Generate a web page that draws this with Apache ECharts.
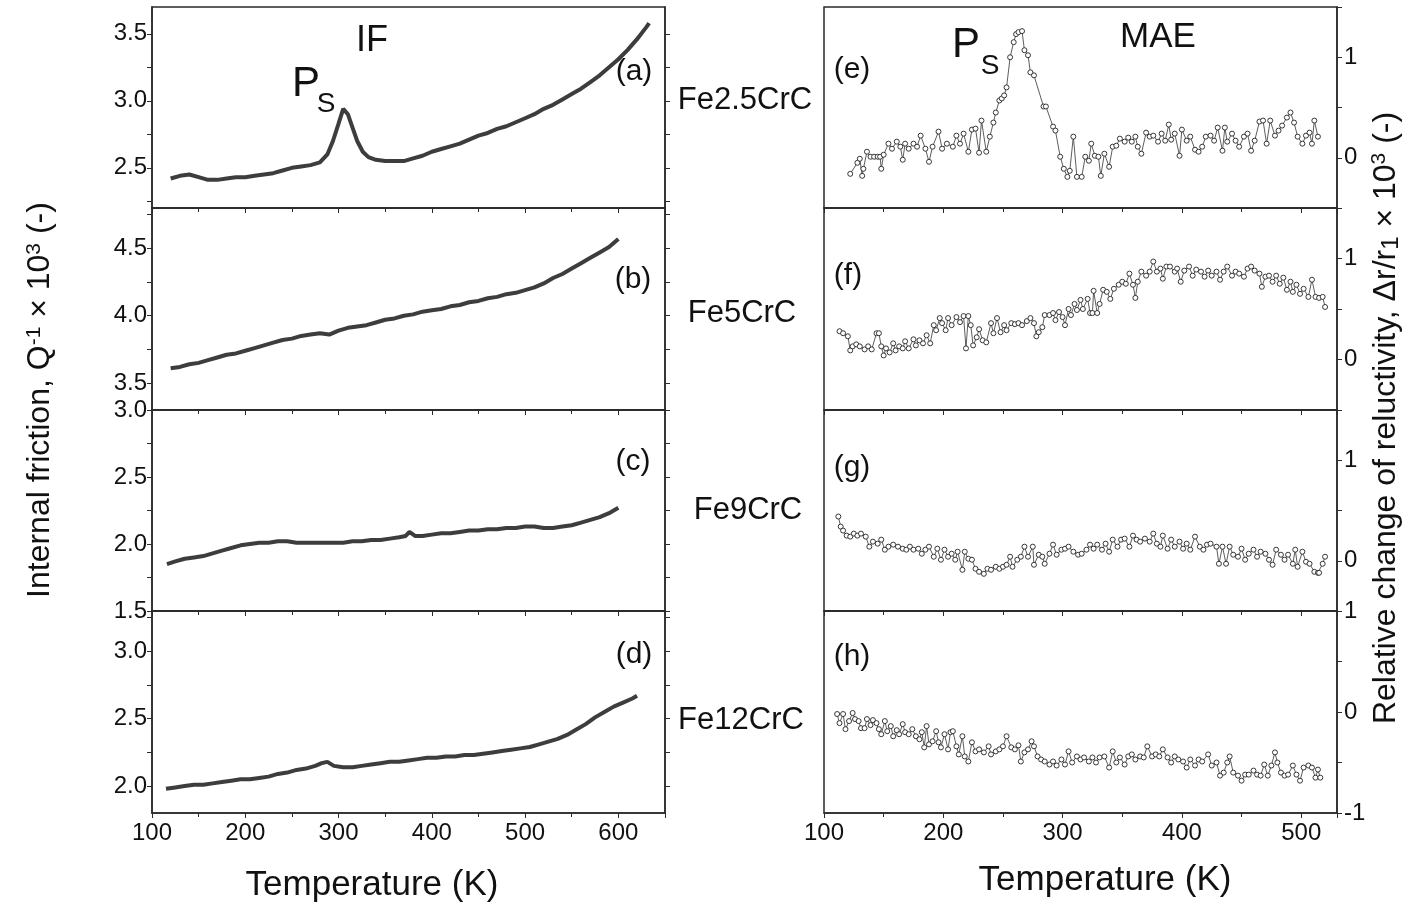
<!DOCTYPE html>
<html>
<head>
<meta charset="utf-8">
<script src="https://cdn.jsdelivr.net/npm/echarts@6/dist/echarts.min.js"></script>
<style>
  html, body { margin: 0; padding: 0; background: #fff; }
  #main { width: 1412px; height: 910px; }
</style>
</head>
<body>
<div id="main"></div>
<script>
// internal friction, Q^-1 x 10^3, [T (K), value]
const ifA = [[120,2.42],[130,2.44],[140,2.45],[150,2.43],[160,2.41],[170,2.41],[180,2.42],[190,2.43],[200,2.43],[210,2.44],[220,2.45],[230,2.46],[240,2.48],[250,2.50],[260,2.51],[270,2.52],[280,2.54],[288,2.60],[294,2.70],[300,2.83],[305,2.94],[310,2.90],[315,2.80],[320,2.70],[326,2.62],[332,2.58],[340,2.56],[350,2.55],[360,2.55],[370,2.55],[380,2.57],[390,2.59],[400,2.62],[410,2.64],[420,2.66],[430,2.68],[440,2.71],[450,2.74],[460,2.76],[470,2.79],[480,2.81],[490,2.84],[500,2.87],[510,2.90],[520,2.94],[530,2.97],[540,3.01],[550,3.05],[560,3.09],[570,3.14],[580,3.19],[590,3.25],[600,3.31],[610,3.38],[620,3.46],[630,3.55],[633,3.58]];
const ifB = [[120,3.61],[130,3.62],[140,3.64],[150,3.65],[160,3.67],[170,3.69],[180,3.71],[190,3.72],[200,3.74],[210,3.76],[220,3.78],[230,3.80],[240,3.82],[250,3.83],[260,3.85],[270,3.86],[280,3.87],[290,3.86],[300,3.89],[310,3.91],[320,3.92],[330,3.93],[340,3.95],[350,3.97],[360,3.98],[370,4.00],[380,4.01],[390,4.03],[400,4.04],[410,4.05],[420,4.07],[430,4.08],[440,4.10],[450,4.11],[460,4.13],[470,4.14],[480,4.16],[490,4.17],[500,4.19],[510,4.21],[520,4.24],[530,4.28],[540,4.31],[550,4.35],[560,4.39],[570,4.43],[580,4.47],[590,4.51],[600,4.57]];
const ifC = [[116,1.85],[125,1.87],[135,1.89],[145,1.90],[155,1.91],[165,1.93],[175,1.95],[185,1.97],[195,1.99],[205,2.00],[215,2.01],[225,2.01],[235,2.02],[245,2.02],[255,2.01],[265,2.01],[275,2.01],[285,2.01],[295,2.01],[305,2.01],[315,2.02],[325,2.02],[335,2.03],[345,2.03],[355,2.04],[365,2.05],[372,2.06],[376,2.09],[382,2.06],[390,2.06],[400,2.07],[410,2.08],[420,2.08],[430,2.09],[440,2.10],[450,2.10],[460,2.11],[470,2.11],[480,2.12],[490,2.12],[500,2.13],[510,2.13],[520,2.12],[530,2.12],[540,2.13],[550,2.14],[560,2.16],[570,2.18],[580,2.20],[590,2.23],[600,2.27]];
const ifD = [[115,1.98],[125,1.99],[135,2.00],[145,2.01],[155,2.01],[165,2.02],[175,2.03],[185,2.04],[195,2.05],[205,2.05],[215,2.06],[225,2.07],[235,2.09],[245,2.10],[255,2.12],[265,2.13],[275,2.15],[282,2.17],[288,2.18],[295,2.15],[305,2.14],[315,2.14],[325,2.15],[335,2.16],[345,2.17],[355,2.18],[365,2.18],[375,2.19],[385,2.20],[395,2.21],[405,2.21],[415,2.22],[425,2.22],[435,2.23],[445,2.23],[455,2.24],[465,2.25],[475,2.26],[485,2.27],[495,2.28],[505,2.29],[515,2.31],[525,2.33],[535,2.35],[545,2.38],[555,2.42],[565,2.46],[575,2.51],[585,2.55],[595,2.59],[605,2.62],[615,2.65],[620,2.67]];

// relative change of reluctivity x 10^3, [T (K), value]
const maeE = [[122,-0.16],[128,-0.05],[130,-0.01],[132,-0.18],[133,-0.11],[136,0.06],[139,0.01],[142,0.01],[145,0.01],[147,0.01],[148,-0.11],[150,0.03],[154,0.14],[157,0.09],[161,0.16],[164,0.11],[166,-0.02],[168,0.14],[171,0.09],[175,0.14],[178,0.11],[181,0.22],[185,0.09],[188,-0.04],[191,0.11],[196,0.26],[199,0.09],[203,0.14],[208,0.11],[211,0.22],[214,0.14],[217,0.24],[221,0.06],[224,0.28],[227,0.29],[230,0.05],[232,0.37],[236,0.06],[239,0.21],[242,0.35],[244,0.45],[247,0.57],[249,0.59],[251,0.62],[253,0.70],[256,1.00],[259,1.15],[261,1.23],[263,1.25],[266,1.26],[268,1.07],[271,1.02],[273,0.85],[276,0.82],[284,0.51],[286,0.51],[292,0.31],[294,0.27],[298,0.01],[301,-0.11],[304,-0.19],[306,-0.13],[309,0.21],[312,-0.19],[316,-0.19],[319,0.01],[322,-0.03],[324,0.14],[327,0.02],[330,0.01],[332,-0.18],[335,0.04],[339,-0.09],[342,0.11],[345,0.12],[348,0.19],[352,0.16],[355,0.20],[358,0.16],[361,0.21],[363,0.11],[366,0.04],[370,0.25],[373,0.21],[376,0.22],[380,0.16],[383,0.24],[386,0.17],[389,0.33],[391,0.18],[394,0.24],[398,0.02],[400,0.28],[404,0.17],[407,0.21],[411,0.08],[414,0.06],[417,0.11],[420,0.21],[424,0.22],[427,0.17],[430,0.30],[434,0.07],[436,0.30],[438,0.16],[442,0.24],[445,0.17],[448,0.11],[452,0.21],[455,0.24],[458,0.07],[461,0.17],[465,0.36],[468,0.37],[471,0.14],[474,0.37],[478,0.22],[481,0.27],[484,0.32],[488,0.40],[491,0.45],[494,0.35],[497,0.21],[501,0.14],[504,0.22],[507,0.25],[509,0.14],[511,0.37],[514,0.21]];
const maeF = [[113,0.28],[116,0.26],[120,0.23],[122,0.09],[124,0.13],[127,0.15],[130,0.13],[134,0.10],[137,0.13],[140,0.10],[144,0.26],[146,0.26],[148,0.13],[150,0.04],[152,0.11],[155,0.07],[158,0.16],[160,0.09],[163,0.13],[166,0.11],[168,0.18],[171,0.11],[175,0.20],[177,0.14],[180,0.19],[183,0.16],[186,0.24],[189,0.16],[192,0.34],[194,0.29],[197,0.41],[199,0.36],[202,0.29],[204,0.41],[207,0.34],[211,0.42],[214,0.37],[217,0.43],[219,0.11],[221,0.43],[223,0.34],[225,0.14],[228,0.22],[230,0.30],[233,0.19],[236,0.17],[240,0.36],[242,0.26],[245,0.41],[248,0.27],[251,0.34],[253,0.29],[257,0.36],[260,0.35],[263,0.36],[266,0.34],[270,0.38],[273,0.41],[276,0.36],[278,0.23],[280,0.27],[283,0.32],[285,0.44],[289,0.44],[292,0.46],[294,0.39],[297,0.47],[300,0.42],[302,0.34],[305,0.50],[307,0.44],[310,0.55],[312,0.49],[315,0.59],[317,0.50],[321,0.60],[323,0.46],[325,0.46],[326,0.68],[329,0.46],[331,0.55],[334,0.69],[337,0.67],[340,0.60],[343,0.70],[347,0.74],[350,0.77],[353,0.75],[356,0.85],[359,0.74],[361,0.61],[363,0.77],[366,0.87],[370,0.83],[373,0.87],[376,0.97],[379,0.87],[382,0.90],[384,0.80],[387,0.92],[390,0.92],[394,0.87],[396,0.90],[399,0.77],[402,0.88],[406,0.92],[409,0.83],[412,0.89],[416,0.87],[419,0.82],[422,0.88],[425,0.83],[429,0.87],[432,0.79],[435,0.87],[438,0.92],[442,0.83],[445,0.87],[448,0.85],[452,0.82],[455,0.90],[458,0.92],[461,0.88],[465,0.85],[467,0.72],[470,0.82],[473,0.83],[476,0.77],[479,0.83],[482,0.75],[485,0.81],[488,0.69],[491,0.77],[493,0.67],[496,0.74],[499,0.65],[502,0.70],[506,0.62],[509,0.79],[512,0.62],[515,0.61],[518,0.62],[520,0.52]];
const maeG = [[112,0.44],[114,0.34],[116,0.30],[119,0.25],[122,0.24],[125,0.27],[128,0.25],[131,0.27],[135,0.24],[138,0.14],[141,0.19],[145,0.17],[148,0.21],[151,0.11],[154,0.14],[158,0.16],[162,0.14],[166,0.12],[169,0.11],[172,0.14],[175,0.11],[179,0.12],[182,0.07],[185,0.11],[188,0.14],[192,0.04],[195,0.12],[198,0.01],[201,0.11],[204,0.04],[207,0.07],[210,0.01],[212,0.09],[216,-0.09],[218,0.09],[221,0.02],[224,0.01],[227,-0.08],[230,-0.11],[234,-0.13],[237,-0.08],[240,-0.09],[244,-0.06],[247,-0.08],[250,-0.06],[253,-0.04],[256,0.04],[258,-0.06],[262,0.01],[265,0.04],[268,0.14],[271,0.04],[275,0.14],[276,-0.04],[280,0.06],[283,0.04],[285,-0.03],[289,0.07],[292,0.16],[295,0.06],[299,0.11],[302,0.12],[305,0.14],[309,0.09],[313,0.06],[316,0.07],[320,0.11],[323,0.16],[326,0.12],[329,0.16],[333,0.11],[336,0.17],[339,0.09],[342,0.21],[346,0.14],[349,0.21],[352,0.22],[356,0.14],[359,0.25],[362,0.21],[365,0.19],[369,0.22],[373,0.19],[376,0.27],[379,0.17],[382,0.14],[384,0.25],[388,0.12],[391,0.21],[394,0.14],[398,0.19],[401,0.12],[404,0.17],[407,0.11],[411,0.24],[415,0.14],[418,0.11],[421,0.16],[424,0.17],[429,0.14],[431,-0.03],[434,0.14],[437,-0.03],[440,0.14],[443,0.06],[447,0.04],[450,0.12],[453,0.01],[456,0.07],[460,0.11],[463,0.04],[466,0.09],[470,0.07],[473,0.01],[476,-0.04],[479,0.11],[483,0.06],[486,0.01],[489,0.06],[493,-0.03],[495,0.11],[497,-0.06],[501,0.09],[504,-0.01],[507,-0.03],[511,-0.11],[514,-0.12],[515,-0.12],[518,-0.03],[520,0.04]];
const maeH = [[111,-0.02],[113,-0.11],[116,-0.02],[118,-0.17],[121,-0.09],[124,-0.01],[126,-0.07],[129,-0.09],[131,-0.16],[134,-0.16],[136,-0.07],[139,-0.13],[141,-0.08],[144,-0.11],[146,-0.17],[148,-0.22],[151,-0.09],[153,-0.19],[156,-0.14],[158,-0.24],[161,-0.18],[163,-0.22],[166,-0.12],[168,-0.20],[171,-0.22],[174,-0.17],[177,-0.24],[180,-0.27],[182,-0.20],[184,-0.35],[186,-0.14],[188,-0.32],[191,-0.29],[194,-0.19],[196,-0.30],[198,-0.35],[201,-0.22],[204,-0.37],[206,-0.20],[208,-0.19],[211,-0.34],[213,-0.42],[216,-0.24],[218,-0.44],[221,-0.49],[224,-0.30],[227,-0.39],[230,-0.37],[234,-0.40],[238,-0.34],[240,-0.42],[244,-0.39],[247,-0.37],[250,-0.34],[253,-0.24],[257,-0.35],[260,-0.37],[263,-0.33],[265,-0.49],[268,-0.40],[271,-0.37],[274,-0.29],[276,-0.34],[279,-0.44],[282,-0.47],[285,-0.49],[289,-0.52],[292,-0.49],[295,-0.53],[299,-0.47],[302,-0.52],[305,-0.39],[308,-0.50],[312,-0.44],[315,-0.47],[318,-0.45],[322,-0.49],[325,-0.45],[328,-0.50],[331,-0.45],[335,-0.44],[339,-0.55],[342,-0.39],[345,-0.50],[348,-0.45],[352,-0.52],[355,-0.44],[358,-0.42],[361,-0.47],[365,-0.44],[368,-0.45],[371,-0.34],[375,-0.44],[378,-0.42],[381,-0.44],[384,-0.37],[388,-0.45],[391,-0.50],[394,-0.44],[397,-0.47],[401,-0.49],[404,-0.55],[407,-0.47],[411,-0.53],[414,-0.47],[417,-0.49],[422,-0.42],[425,-0.53],[429,-0.50],[432,-0.63],[435,-0.60],[438,-0.50],[440,-0.44],[443,-0.60],[447,-0.63],[450,-0.68],[453,-0.62],[456,-0.62],[460,-0.58],[463,-0.62],[466,-0.63],[469,-0.52],[472,-0.63],[475,-0.53],[478,-0.40],[480,-0.50],[483,-0.60],[486,-0.63],[489,-0.62],[493,-0.53],[496,-0.62],[499,-0.68],[502,-0.55],[506,-0.53],[509,-0.55],[512,-0.65],[514,-0.57],[516,-0.65]];

// axis ranges and tick values
const tempLabels = [100, 200, 300, 400, 500, 600];
const ifRanges = [[2.2, 3.7], [3.3, 4.8], [1.5, 3.0], [1.8, 3.3]];
const ifLabels = [[2.5, 3.0, 3.5], [3.5, 4.0, 4.5], [1.5, 2.0, 2.5, 3.0], [2.0, 2.5, 3.0]];
const ifTicks = [[2.25, 2.5, 2.75, 3.0, 3.25, 3.5], [3.5, 3.75, 4.0, 4.25, 4.5, 4.75], [1.5, 1.75, 2.0, 2.25, 2.5, 2.75, 3.0], [2.0, 2.25, 2.5, 2.75, 3.0, 3.25]];
const maeRanges = [[-0.5, 1.5], [-0.5, 1.5], [-0.5, 1.5], [-1, 1]];
const maeLabels = [[0, 1], [0, 1], [0, 1], [-1, 0, 1]];
const maeTicks = [[-0.5, 0, 0.5, 1, 1.5], [-0.5, 0, 0.5, 1, 1.5], [-0.5, 0, 0.5, 1, 1.5], [-1, -0.5, 0, 0.5, 1]];

const ifData = [ifA, ifB, ifC, ifD];
const maeData = [maeE, maeF, maeG, maeH];
const panelTops = [7, 208, 410, 611];
const panelHeights = [201, 202, 201, 202];

const FONT = '"Liberation Sans", Arial, sans-serif';
const INK = '#111';
const FRAME = '#2a2a2a';

const myChart = echarts.init(document.getElementById('main'));

const grids = [], xAxes = [], yAxes = [], series = [];

function addPanel(col, i) {
  const isIF = col === 0;
  const gi = grids.length;
  grids.push({
    left: isIF ? 152 : 824,
    width: 513,
    top: panelTops[i],
    height: panelHeights[i],
    show: true,
    borderColor: FRAME,
    borderWidth: 1.5,
    backgroundColor: 'transparent'
  });
  const xMax = isIF ? 650 : 530;
  xAxes.push({
    type: 'value',
    gridIndex: gi,
    min: 100,
    max: xMax,
    interval: 100,
    axisLine: { show: true, onZero: false, lineStyle: { color: FRAME, width: 1.5 } },
    axisTick: { show: true, length: 5, lineStyle: { color: FRAME } },
    minorTick: { show: true, splitNumber: 2, length: 4, lineStyle: { color: FRAME } },
    splitLine: { show: false },
    axisLabel: {
      show: i === 3,
      customValues: tempLabels.filter((t) => t <= xMax),
      fontFamily: FONT, fontSize: 24, color: INK, margin: 8
    }
  });
  const range = isIF ? ifRanges[i] : maeRanges[i];
  const labels = isIF ? ifLabels[i] : maeLabels[i];
  const ticks = isIF ? ifTicks[i] : maeTicks[i];
  const yi = yAxes.length;
  // labelled axis: left for IF, right for MAE
  yAxes.push({
    type: 'value',
    gridIndex: gi,
    position: isIF ? 'left' : 'right',
    min: range[0],
    max: range[1],
    axisLine: { show: true, onZero: false, lineStyle: { color: FRAME, width: 1.5 } },
    axisTick: { show: true, length: 5, customValues: ticks, lineStyle: { color: FRAME } },
    splitLine: { show: false },
    axisLabel: {
      customValues: labels,
      fontFamily: FONT, fontSize: 24, color: INK,
      margin: isIF ? 5 : 7,
      formatter: (v) => isIF ? v.toFixed(1) : String(Math.round(v))
    }
  });
  if (isIF) {
    // unlabelled ticks on the right side of the IF panels
    yAxes.push({
      type: 'value',
      gridIndex: gi,
      position: 'right',
      min: range[0],
      max: range[1],
      axisLine: { show: true, onZero: false, lineStyle: { color: FRAME, width: 1.5 } },
      axisTick: { show: true, length: 5, customValues: ticks, lineStyle: { color: FRAME } },
      splitLine: { show: false },
      axisLabel: { show: false }
    });
    series.push({
      type: 'line',
      xAxisIndex: gi,
      yAxisIndex: yi,
      data: ifData[i],
      showSymbol: false,
      lineStyle: { color: '#3d3d3d', width: 4 }
    });
  } else {
    series.push({
      type: 'line',
      xAxisIndex: gi,
      yAxisIndex: yi,
      data: maeData[i],
      symbol: 'circle',
      symbolSize: 5,
      lineStyle: { color: '#333', width: 0.8 },
      itemStyle: { color: '#fff', borderColor: '#222', borderWidth: 0.9 }
    });
  }
}

for (let i = 0; i < 4; i++) addPanel(0, i);
for (let i = 0; i < 4; i++) addPanel(1, i);

function txt(x, y, text, size) {
  return {
    type: 'text', x: x, y: y, z: 100,
    style: {
      text: text, fontFamily: FONT, fontSize: size, fill: INK,
      align: 'center', verticalAlign: 'middle'
    }
  };
}

const richBase = { fontFamily: FONT, fontSize: 32, fill: INK };
const graphics = [
  txt(372, 41, 'IF', 36),
  txt(1158, 37, 'MAE', 35),
  txt(306, 84, 'P', 42),
  txt(326, 104, 'S', 28),
  txt(966, 45, 'P', 42),
  txt(990, 66, 'S', 28),
  txt(634, 72, '(a)', 30),
  txt(633, 280, '(b)', 30),
  txt(633, 462, '(c)', 30),
  txt(634, 655, '(d)', 30),
  txt(852, 70, '(e)', 30),
  txt(848, 276, '(f)', 30),
  txt(852, 468, '(g)', 30),
  txt(852, 657, '(h)', 30),
  txt(745, 100, 'Fe2.5CrC', 31),
  txt(742, 313, 'Fe5CrC', 31),
  txt(748, 510, 'Fe9CrC', 31),
  txt(741, 720, 'Fe12CrC', 31),
  txt(372, 885, 'Temperature (K)', 35),
  txt(1105, 880, 'Temperature (K)', 35),
  {
    type: 'text', x: 40, y: 400, rotation: Math.PI / 2, z: 100,
    style: {
      text: '{n|Internal friction, Q}{s|-1}{n| × 10}{s|3}{n| (-)}',
      align: 'center', verticalAlign: 'middle',
      rich: {
        n: richBase,
        s: { fontFamily: FONT, fontSize: 21, fill: INK, verticalAlign: 'top', padding: [0, 0, 12, 0] }
      }
    }
  },
  {
    type: 'text', x: 1386, y: 418, rotation: Math.PI / 2, z: 100,
    style: {
      text: '{n|Relative change of reluctivity, Δr/r}{b|1}{n| × 10}{s|3}{n| (-)}',
      align: 'center', verticalAlign: 'middle',
      rich: {
        n: richBase,
        s: { fontFamily: FONT, fontSize: 21, fill: INK, verticalAlign: 'top', padding: [0, 0, 12, 0] },
        b: { fontFamily: FONT, fontSize: 24, fill: INK, verticalAlign: 'bottom', padding: [10, 0, 0, 0] }
      }
    }
  }
];

const option = {
  animation: false,
  backgroundColor: '#fff',
  grid: grids,
  xAxis: xAxes,
  yAxis: yAxes,
  series: series,
  graphic: graphics
};
myChart.setOption(option);
</script>
</body>
</html>
